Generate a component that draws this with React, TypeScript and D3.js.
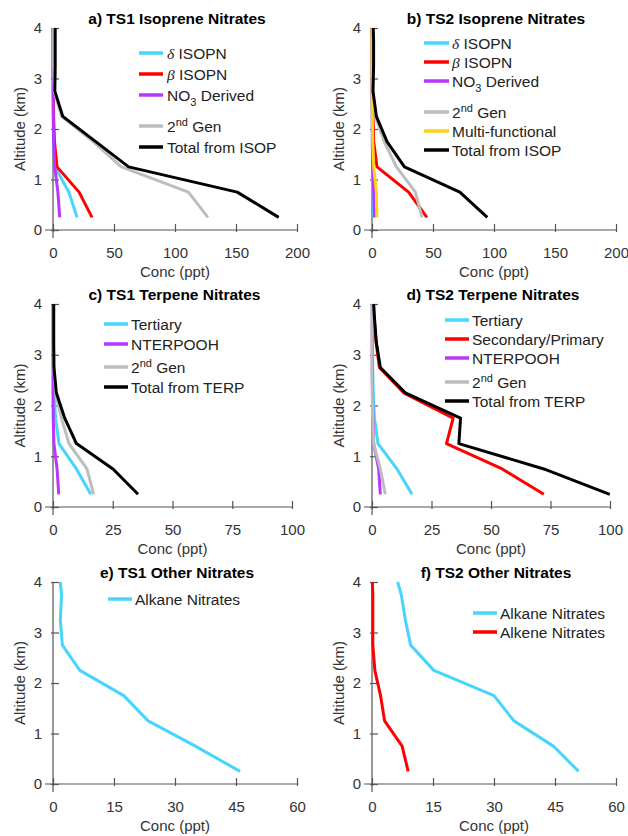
import * as React from 'react';
import { useRef, useEffect } from 'react';
import * as d3 from 'd3';

// altitude bins (km) shared by every profile
const altitude = [0.25, 0.75, 1.25, 1.75, 2.25, 2.75, 3.25, 3.75, 4];

// a) TS1 isoprene nitrates (ppt)
const ts1IsoDelta = [19.7, 13, 1.6, 0.5, 0.3, 0.2, 0.2, 0.2, 0.2];
const ts1IsoBeta = [32, 21.4, 3.3, 1.2, 0.5, 0.3, 0.2, 0.2, 0.2];
const ts1IsoNo3 = [5.5, 4, 1.4, 0.5, 0.2, 0.1, 0, 0, 0];
const ts1Iso2nd = [127, 111, 56, 33, 7, 1, 0.5, 0.5, 0.5];
const ts1IsoTotal = [185, 151, 62, 35, 8, 1.5, 1.8, 1.8, 1.8];

// b) TS2 isoprene nitrates
const ts2IsoDelta = [1.4, 0.8, 0.4, 0.3, 0.2, 0.1, 0.1, 0.1, 0.1];
const ts2IsoBeta = [45, 30, 4.1, 1.4, 0.8, 0.3, 0.2, 0.2, 0.2];
const ts2IsoNo3 = [2, 1.4, 0.5, 0.3, 0.2, 0.1, 0.1, 0.1, 0.1];
const ts2Iso2nd = [41, 35.6, 20, 10, 2.7, 0.8, 0.5, 0.5, 0.5];
const ts2IsoMulti = [4, 3.6, 1.4, 0.6, 0.3, 0.1, 0, 0, 0];
const ts2IsoTotal = [94.5, 72, 26.6, 12.3, 3.6, 0.8, 1.3, 1.3, 1];

// c) TS1 terpene nitrates
const ts1TerpTertiary = [15.8, 9.8, 2.5, 1.1, 0.4, 0.2, 0.1, 0.1, 0.1];
const ts1TerpNterpooh = [2.4, 1.7, 0.4, 0.1, 0, 0, 0, 0, 0];
const ts1Terp2nd = [17, 14.2, 6.7, 3.5, 1.1, 0.3, 0.2, 0.2, 0.2];
const ts1TerpTotal = [35.6, 25.1, 9.8, 4.9, 1.4, 0.4, 0.3, 0.3, 0.3];

// d) TS2 terpene nitrates
const ts2TerpTertiary = [16.8, 10.5, 2.5, 1, 0.5, 0.3, 0.2, 0.2, 0.2];
const ts2TerpSecPrim = [72.2, 54.7, 31.3, 34.1, 13.3, 3.1, 1.7, 0.8, 0.6];
const ts2TerpNterpooh = [3.5, 2.8, 0.7, 0.4, 0.2, 0.1, 0.1, 0.1, 0.1];
const ts2Terp2nd = [5.6, 3.5, 0.7, 0.3, 0.1, 0, 0, 0, 0];
const ts2TerpTotal = [99.9, 72.2, 36.5, 37.2, 14, 3.5, 1.8, 1, 0.7];

// e) / f) other nitrates
const ts1Alkane = [46, 35, 23.4, 17.4, 6.6, 2.3, 1.8, 2.1, 1.8];
const ts2Alkane = [50.8, 44.6, 34.9, 30, 15.2, 9.5, 8.2, 7.2, 6.3];
const ts2Alkene = [8.9, 7.4, 3.1, 2.1, 0.7, 0.2, 0.2, 0.2, 0.1];

const isoTicks = [0, 50, 100, 150, 200];
const terpTicks = [0, 25, 50, 75, 100];
const otherTicks = [0, 15, 30, 45, 60];
const altTicks = [0, 1, 2, 3, 4];

const C = {
  cyan: '#47d4ff',
  red: '#ff0000',
  purple: '#b936ff',
  gray: '#bdbdbd',
  yellow: '#ffd21a',
  black: '#000000',
};

const FONT = '"Liberation Sans", Arial, Helvetica, sans-serif';
const SERIF = '"Liberation Serif", "Times New Roman", serif';

type Series = { label: string; values: number[]; color: string };
type Panel = {
  title: string;
  left: number; right: number; top: number; bottom: number;
  xTicks: number[];
  series: Series[];
  legend: { x1: number; x2: number; tx: number; rows: number[] };
};

const panels: Panel[] = [
  {
    title: 'a) TS1 Isoprene Nitrates',
    left: 53, right: 297, top: 28, bottom: 230, xTicks: isoTicks,
    series: [
      { label: 'δ ISOPN', values: ts1IsoDelta, color: C.cyan },
      { label: 'β ISOPN', values: ts1IsoBeta, color: C.red },
      { label: 'NO_{3} Derived', values: ts1IsoNo3, color: C.purple },
      { label: '2^{nd} Gen', values: ts1Iso2nd, color: C.gray },
      { label: 'Total from ISOP', values: ts1IsoTotal, color: C.black },
    ],
    legend: { x1: 139, x2: 163, tx: 167, rows: [53, 74, 95, 126, 147] },
  },
  {
    title: 'b) TS2 Isoprene Nitrates',
    left: 372, right: 616, top: 28, bottom: 230, xTicks: isoTicks,
    series: [
      { label: 'δ ISOPN', values: ts2IsoDelta, color: C.cyan },
      { label: 'β ISOPN', values: ts2IsoBeta, color: C.red },
      { label: 'NO_{3} Derived', values: ts2IsoNo3, color: C.purple },
      { label: '2^{nd} Gen', values: ts2Iso2nd, color: C.gray },
      { label: 'Multi-functional', values: ts2IsoMulti, color: C.yellow },
      { label: 'Total from ISOP', values: ts2IsoTotal, color: C.black },
    ],
    legend: { x1: 424, x2: 449, tx: 452, rows: [43, 62, 81, 112, 131, 150] },
  },
  {
    title: 'c) TS1 Terpene Nitrates',
    left: 53, right: 292, top: 304, bottom: 507, xTicks: terpTicks,
    series: [
      { label: 'Tertiary', values: ts1TerpTertiary, color: C.cyan },
      { label: 'NTERPOOH', values: ts1TerpNterpooh, color: C.purple },
      { label: '2^{nd} Gen', values: ts1Terp2nd, color: C.gray },
      { label: 'Total from TERP', values: ts1TerpTotal, color: C.black },
    ],
    legend: { x1: 104, x2: 128, tx: 131, rows: [324, 344, 367, 387] },
  },
  {
    title: 'd) TS2 Terpene Nitrates',
    left: 372, right: 610, top: 304, bottom: 507, xTicks: terpTicks,
    series: [
      { label: 'Tertiary', values: ts2TerpTertiary, color: C.cyan },
      { label: 'Secondary/Primary', values: ts2TerpSecPrim, color: C.red },
      { label: 'NTERPOOH', values: ts2TerpNterpooh, color: C.purple },
      { label: '2^{nd} Gen', values: ts2Terp2nd, color: C.gray },
      { label: 'Total from TERP', values: ts2TerpTotal, color: C.black },
    ],
    legend: { x1: 445, x2: 469, tx: 472, rows: [320, 339, 358, 382, 401] },
  },
  {
    title: 'e) TS1 Other Nitrates',
    left: 53, right: 297, top: 582, bottom: 784, xTicks: otherTicks,
    series: [
      { label: 'Alkane Nitrates', values: ts1Alkane, color: C.cyan },
    ],
    legend: { x1: 108, x2: 132, tx: 135, rows: [599] },
  },
  {
    title: 'f) TS2 Other Nitrates',
    left: 372, right: 616, top: 582, bottom: 784, xTicks: otherTicks,
    series: [
      { label: 'Alkane Nitrates', values: ts2Alkane, color: C.cyan },
      { label: 'Alkene Nitrates', values: ts2Alkene, color: C.red },
    ],
    legend: { x1: 473, x2: 497, tx: 500, rows: [613, 632] },
  },
];

// writes "δ ISOPN", "NO_{3} Derived", "2^{nd} Gen" as tspans
function writeLabel(text: d3.Selection<SVGTextElement, unknown, null, undefined>, label: string) {
  const parts = label.split(/(_\{[^}]*\}|\^\{[^}]*\})/).filter((s) => s.length);
  let back = 0; // shift to undo on the next plain run
  parts.forEach((part) => {
    if (part.startsWith('_{') || part.startsWith('^{')) {
      const shift = part[0] === '_' ? 5 : -6;
      text.append('tspan').attr('dy', shift + back).attr('font-size', 11).text(part.slice(2, -1));
      back = -shift;
    } else if (/^[δβ]/.test(part)) {
      text.append('tspan').attr('dy', back).attr('font-family', SERIF).attr('font-style', 'italic').text(part[0]);
      text.append('tspan').text(part.slice(1));
      back = 0;
    } else {
      text.append('tspan').attr('dy', back).text(part);
      back = 0;
    }
  });
}

export default function App() {
  const ref = useRef<SVGSVGElement>(null);

  useEffect(() => {
    if (!ref.current) return;
    const svg = d3.select(ref.current);
    svg.selectAll('*').remove();

    panels.forEach((p) => {
      const xMax = p.xTicks[p.xTicks.length - 1];
      const x = d3.scaleLinear().domain([0, xMax]).range([p.left, p.right]);
      const y = d3.scaleLinear().domain([0, 4]).range([p.bottom, p.top]);
      const g = svg.append('g');

      const xAxis = g.append('g')
        .attr('transform', `translate(0,${p.bottom})`)
        .call(d3.axisBottom(x).tickValues(p.xTicks).tickFormat(d3.format('d')).tickSizeInner(-6).tickSizeOuter(0).tickPadding(17.5));
      xAxis.select('.domain').attr('d', `M${p.left - 8},0H${p.right}`);
      xAxis.selectAll('.tick line').attr('y1', 2);

      const yAxis = g.append('g')
        .attr('transform', `translate(${p.left},0)`)
        .call(d3.axisLeft(y).tickValues(altTicks).tickFormat(d3.format('d')).tickSizeInner(-6).tickSizeOuter(0).tickPadding(11));
      yAxis.select('.domain').attr('d', `M0,${p.bottom + 8}V${p.top}`);
      yAxis.selectAll('.tick line').attr('x1', -2);

      [xAxis, yAxis].forEach((ax) => {
        ax.attr('font-family', FONT).attr('font-size', 15).attr('color', '#555');
        ax.selectAll('text').attr('fill', '#333');
        ax.selectAll('path, line').attr('stroke-width', 1.2);
      });

      g.append('text')
        .attr('x', (p.left + p.right) / 2)
        .attr('y', p.bottom + 47)
        .attr('text-anchor', 'middle')
        .attr('font-family', FONT).attr('font-size', 15).attr('fill', '#333')
        .text('Conc (ppt)');

      g.append('text')
        .attr('transform', `translate(${p.left - 28},${(p.top + p.bottom) / 2}) rotate(-90)`)
        .attr('text-anchor', 'middle')
        .attr('font-family', FONT).attr('font-size', 15).attr('fill', '#333')
        .text('Altitude (km)');

      g.append('text')
        .attr('x', (p.left + p.right) / 2 + 2)
        .attr('y', p.top - 4)
        .attr('text-anchor', 'middle')
        .attr('font-family', FONT).attr('font-size', 15.5).attr('font-weight', 'bold')
        .attr('fill', '#000')
        .text(p.title);

      const line = d3.line<number>()
        .x((v) => x(v))
        .y((_, i) => y(altitude[i]));

      p.series.forEach((s) => {
        g.append('path')
          .datum(s.values)
          .attr('fill', 'none')
          .attr('stroke', s.color)
          .attr('stroke-width', 3)
          .attr('stroke-linejoin', 'round')
          .attr('d', line);
      });

      p.series.forEach((s, i) => {
        const ry = p.legend.rows[i];
        g.append('line')
          .attr('x1', p.legend.x1).attr('x2', p.legend.x2)
          .attr('y1', ry).attr('y2', ry)
          .attr('stroke', s.color).attr('stroke-width', 3.5);
        const t = g.append('text')
          .attr('x', p.legend.tx).attr('y', ry + 6)
          .attr('font-family', FONT).attr('font-size', 15.5).attr('fill', '#222');
        writeLabel(t, s.label);
      });
    });
  }, []);

  return (
    <svg
      ref={ref}
      width={628}
      height={836}
      style={{ position: 'absolute', left: 0, top: 0, display: 'block', background: '#fff' }}
    />
  );
}
